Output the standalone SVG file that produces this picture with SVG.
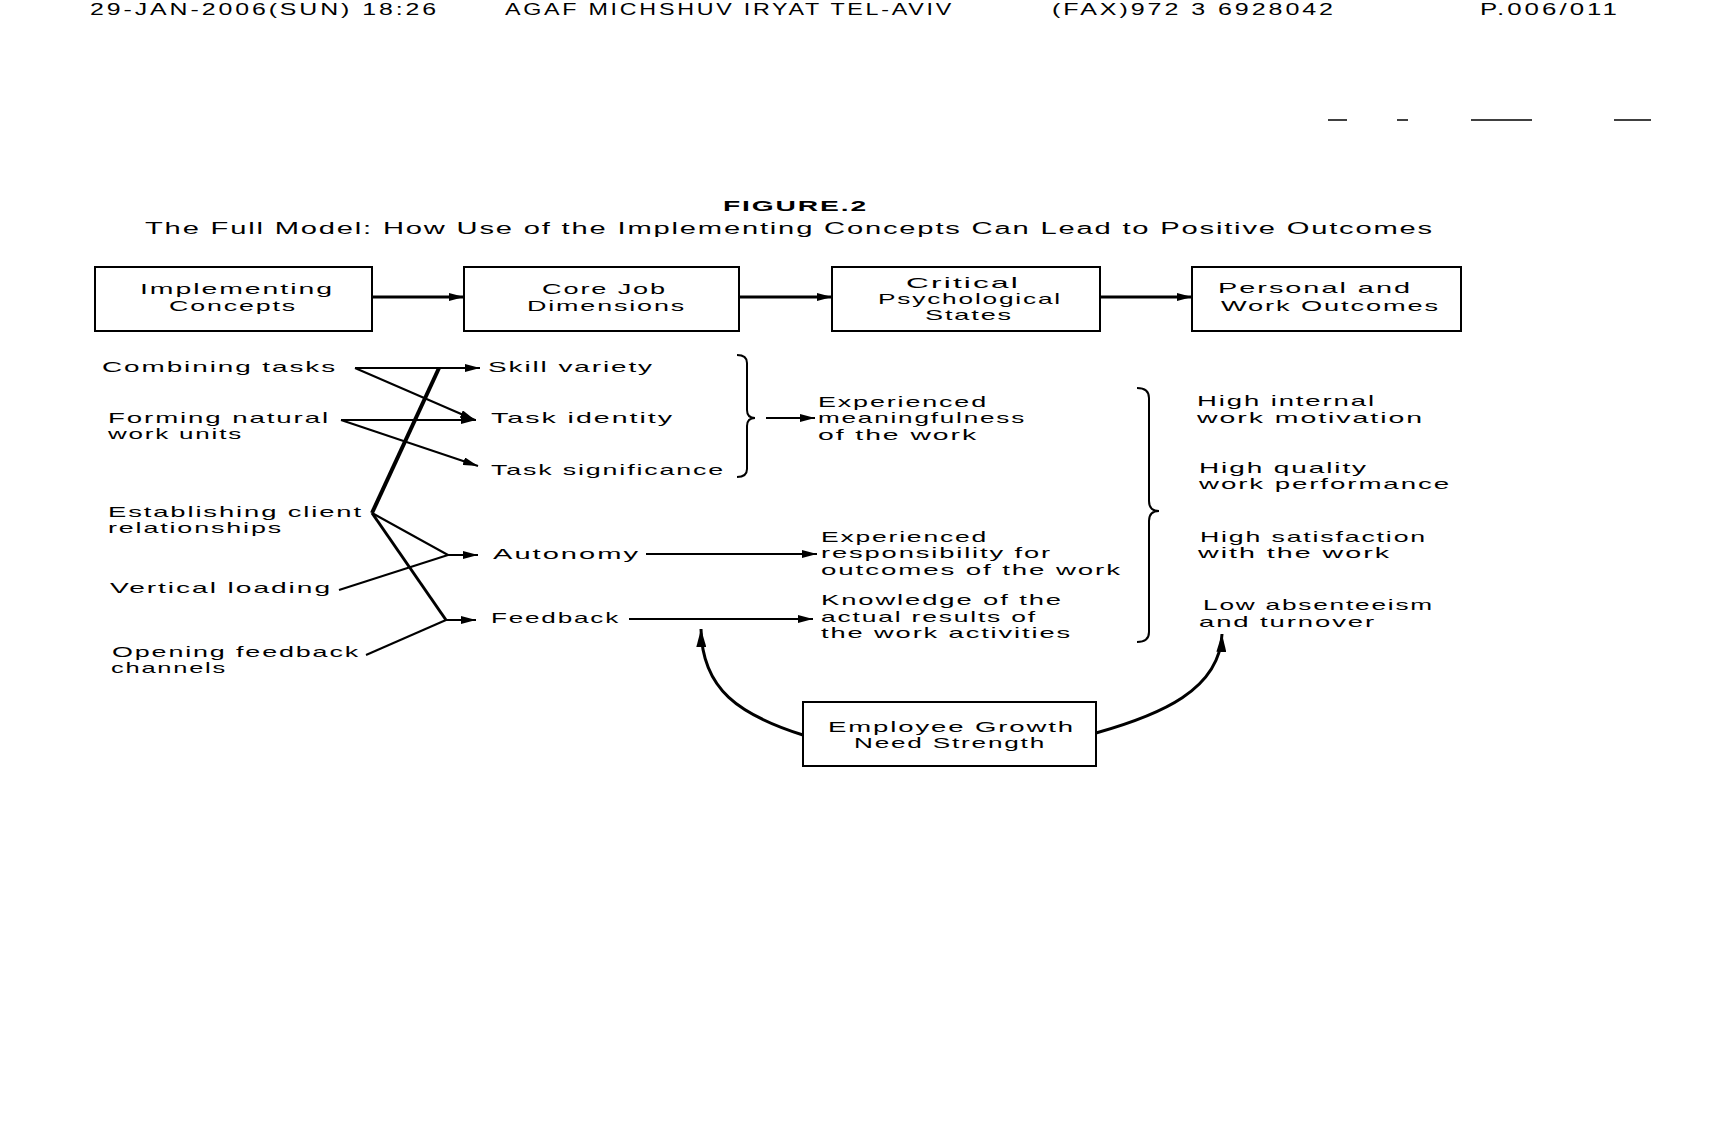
<svg xmlns="http://www.w3.org/2000/svg" width="1728" height="1121" viewBox="0 0 1728 1121">
<style>
text{font-family:"Liberation Sans",Arial,sans-serif;font-size:14.5px;fill:#000;letter-spacing:1px}
.hd{font-size:17px;letter-spacing:2px}
.fig{font-weight:bold;font-size:15px}
.ttl{font-size:16px}
.box{fill:#fff;stroke:#000;stroke-width:2}
.ln{fill:none;stroke:#000;stroke-width:2}
.md{fill:none;stroke:#000;stroke-width:3}
.thk{fill:none;stroke:#000;stroke-width:4}
.bx{fill:none;stroke:#000;stroke-width:3}
.br{fill:none;stroke:#000;stroke-width:2}
.ns{stroke:#000;stroke-width:1.5}
</style>
<defs>
<marker id="ah" markerUnits="userSpaceOnUse" markerWidth="15" markerHeight="8" refX="15" refY="4" orient="auto">
<path d="M0,0 L15,4 L0,8 z" fill="#000"/>
</marker>
<marker id="ahb" markerUnits="userSpaceOnUse" markerWidth="18" markerHeight="10" refX="18" refY="5" orient="auto">
<path d="M0,0 L18,5 L0,10 z" fill="#000"/>
</marker>
</defs>
<rect width="1728" height="1121" fill="#fff"/>

<g id="header">
<text class="hd" x="90" y="15" textLength="349" lengthAdjust="spacingAndGlyphs">29-JAN-2006(SUN) 18:26</text>
<text class="hd" x="505" y="15" textLength="449" lengthAdjust="spacingAndGlyphs">AGAF MICHSHUV IRYAT TEL-AVIV</text>
<text class="hd" x="1052" y="15" textLength="284" lengthAdjust="spacingAndGlyphs">(FAX)972 3 6928042</text>
<text class="hd" x="1480" y="15" textLength="140" lengthAdjust="spacingAndGlyphs">P.006/011</text>
</g>
<g id="noise">
<line class="ns" x1="1328" y1="120" x2="1347" y2="120"/>
<line class="ns" x1="1397" y1="120" x2="1408" y2="120"/>
<line class="ns" x1="1471" y1="120" x2="1532" y2="120"/>
<line class="ns" x1="1614" y1="120" x2="1651" y2="120"/>
</g>

<g id="title">
<text class="fig" x="723" y="211" textLength="145" lengthAdjust="spacingAndGlyphs">FIGURE.2</text>
<text class="ttl" x="145" y="234" textLength="1289" lengthAdjust="spacingAndGlyphs">The Full Model: How Use of the Implementing Concepts Can Lead to Positive Outcomes</text>
</g>

<g id="box-implementing">
<rect class="box" x="95" y="267" width="277" height="64"/>
<text x="140" y="294" textLength="194" lengthAdjust="spacingAndGlyphs">Implementing</text>
<text x="169" y="311" textLength="128" lengthAdjust="spacingAndGlyphs">Concepts</text>
</g>
<g id="box-core">
<rect class="box" x="464" y="267" width="275" height="64"/>
<text x="542" y="294" textLength="125" lengthAdjust="spacingAndGlyphs">Core Job</text>
<text x="527" y="311" textLength="159" lengthAdjust="spacingAndGlyphs">Dimensions</text>
</g>
<g id="box-critical">
<rect class="box" x="832" y="267" width="268" height="64"/>
<text x="906" y="288" textLength="114" lengthAdjust="spacingAndGlyphs">Critical</text>
<text x="878" y="304" textLength="184" lengthAdjust="spacingAndGlyphs">Psychological</text>
<text x="925" y="320" textLength="88" lengthAdjust="spacingAndGlyphs">States</text>
</g>
<g id="box-outcomes">
<rect class="box" x="1192" y="267" width="269" height="64"/>
<text x="1218" y="293" textLength="194" lengthAdjust="spacingAndGlyphs">Personal and</text>
<text x="1221" y="311" textLength="219" lengthAdjust="spacingAndGlyphs">Work Outcomes</text>
</g>

<g id="implementing-concepts">
<text x="102" y="372" textLength="235" lengthAdjust="spacingAndGlyphs">Combining tasks</text>
<text x="108" y="423" textLength="222" lengthAdjust="spacingAndGlyphs">Forming natural</text>
<text x="108" y="439" textLength="135" lengthAdjust="spacingAndGlyphs">work units</text>
<text x="108" y="517" textLength="255" lengthAdjust="spacingAndGlyphs">Establishing client</text>
<text x="108" y="533" textLength="175" lengthAdjust="spacingAndGlyphs">relationships</text>
<text x="110" y="593" textLength="222" lengthAdjust="spacingAndGlyphs">Vertical loading</text>
<text x="112" y="657" textLength="248" lengthAdjust="spacingAndGlyphs">Opening feedback</text>
<text x="111" y="673" textLength="116" lengthAdjust="spacingAndGlyphs">channels</text>
</g>

<g id="core-dimensions">
<text x="488" y="372" textLength="166" lengthAdjust="spacingAndGlyphs">Skill variety</text>
<text x="491" y="423" textLength="183" lengthAdjust="spacingAndGlyphs">Task identity</text>
<text x="491" y="475" textLength="234" lengthAdjust="spacingAndGlyphs">Task significance</text>
<text x="493" y="559" textLength="147" lengthAdjust="spacingAndGlyphs">Autonomy</text>
<text x="491" y="623" textLength="129" lengthAdjust="spacingAndGlyphs">Feedback</text>
</g>

<g id="psych-states">
<text x="818" y="407" textLength="170" lengthAdjust="spacingAndGlyphs">Experienced</text>
<text x="818" y="423" textLength="208" lengthAdjust="spacingAndGlyphs">meaningfulness</text>
<text x="818" y="440" textLength="160" lengthAdjust="spacingAndGlyphs">of the work</text>
<text x="821" y="542" textLength="167" lengthAdjust="spacingAndGlyphs">Experienced</text>
<text x="821" y="558" textLength="231" lengthAdjust="spacingAndGlyphs">responsibility for</text>
<text x="821" y="575" textLength="301" lengthAdjust="spacingAndGlyphs">outcomes of the work</text>
<text x="821" y="605" textLength="242" lengthAdjust="spacingAndGlyphs">Knowledge of the</text>
<text x="821" y="622" textLength="216" lengthAdjust="spacingAndGlyphs">actual results of</text>
<text x="821" y="638" textLength="251" lengthAdjust="spacingAndGlyphs">the work activities</text>
</g>

<g id="outcomes">
<text x="1197" y="406" textLength="179" lengthAdjust="spacingAndGlyphs">High internal</text>
<text x="1197" y="423" textLength="227" lengthAdjust="spacingAndGlyphs">work motivation</text>
<text x="1199" y="473" textLength="169" lengthAdjust="spacingAndGlyphs">High quality</text>
<text x="1199" y="489" textLength="252" lengthAdjust="spacingAndGlyphs">work performance</text>
<text x="1200" y="542" textLength="227" lengthAdjust="spacingAndGlyphs">High satisfaction</text>
<text x="1198" y="558" textLength="193" lengthAdjust="spacingAndGlyphs">with the work</text>
<text x="1203" y="610" textLength="231" lengthAdjust="spacingAndGlyphs">Low absenteeism</text>
<text x="1199" y="627" textLength="177" lengthAdjust="spacingAndGlyphs">and turnover</text>
</g>

<g id="box-growth">
<rect class="box" x="803" y="702" width="293" height="64"/>
<text x="828" y="732" textLength="247" lengthAdjust="spacingAndGlyphs">Employee Growth</text>
<text x="854" y="748" textLength="192" lengthAdjust="spacingAndGlyphs">Need Strength</text>
</g>

<g id="connectors">
<line class="bx" x1="372" y1="297" x2="464" y2="297" marker-end="url(#ah)"/>
<line class="bx" x1="739" y1="297" x2="832" y2="297" marker-end="url(#ah)"/>
<line class="bx" x1="1100" y1="297" x2="1192" y2="297" marker-end="url(#ah)"/>

<line class="ln" x1="355" y1="368" x2="480" y2="368" marker-end="url(#ah)"/>
<line class="ln" x1="355" y1="368" x2="475" y2="420" marker-end="url(#ah)"/>
<line class="ln" x1="341" y1="420" x2="476" y2="420" marker-end="url(#ah)"/>
<line class="ln" x1="341" y1="420" x2="478" y2="466" marker-end="url(#ah)"/>
<line class="thk" x1="372" y1="513" x2="439" y2="368"/>
<polyline class="ln" points="372,513 448,555"/>
<polyline class="ln" points="339,590 448,555"/>
<line class="ln" x1="448" y1="555" x2="478" y2="555" marker-end="url(#ah)"/>
<polyline class="md" points="372,513 446,620"/>
<polyline class="ln" points="366,655 446,620"/>
<line class="ln" x1="446" y1="620" x2="476" y2="620" marker-end="url(#ah)"/>

<path class="br" d="M737 355 Q747 355 747 363 L747 410 Q747 418 755 418 Q747 418 747 426 L747 469 Q747 477 737 477"/>
<line class="ln" x1="766" y1="418" x2="815" y2="418" marker-end="url(#ah)"/>
<line class="ln" x1="646" y1="554" x2="817" y2="554" marker-end="url(#ah)"/>
<line class="ln" x1="629" y1="619" x2="813" y2="619" marker-end="url(#ah)"/>

<path class="br" d="M1137 388 Q1149 388 1149 398 L1149 501 Q1149 511 1159 511 Q1149 511 1149 521 L1149 632 Q1149 642 1137 642"/>

<path class="bx" d="M803 735 C740 715 702 690 701 629" marker-end="url(#ahb)"/>
<path class="bx" d="M1096 733 C1160 715 1220 690 1222 634" marker-end="url(#ahb)"/>
</g>
</svg>
